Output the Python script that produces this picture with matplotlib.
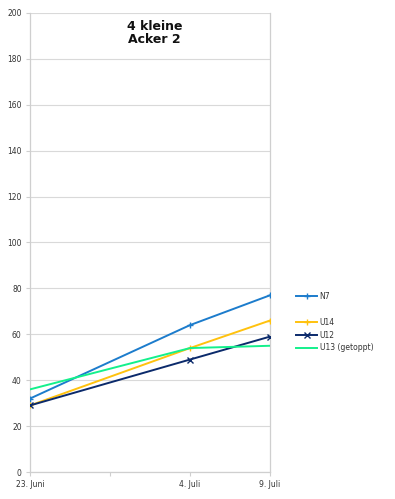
import matplotlib
matplotlib.use("Agg")
import matplotlib.pyplot as plt
from matplotlib.lines import Line2D

# category slots: 23. Juni, (empty), 4. Juli, 9. Juli
x_pos = [0, 2, 3]
tick_labels = ["23. Juni", "", "4. Juli", "9. Juli"]

n7 = [32, 64, 77]
u14 = [29, 54, 66]
u12 = [29, 49, 59]
u13 = [36, 54, 55]

series = [
    ("N7", n7, "#1c7ccc", "+"),
    ("U14", u14, "#ffc20e", "+"),
    ("U12", u12, "#0b2a6b", "x"),
    ("U13 (getoppt)", u13, "#14f08c", None),
]

fig = plt.figure(figsize=(3.95, 4.99), dpi=100)
ax = fig.add_axes([30 / 395, 27 / 499, 240 / 395, 459 / 499])

handles = []
for name, vals, col, mk in series:
    ln, = ax.plot(x_pos, vals, color=col, lw=1.4, marker=mk, ms=4.5, mew=1.0,
                  label=name, zorder=3)
    handles.append(ln)

ax.set_xlim(0, 3)
ax.set_ylim(0, 200)
ax.set_yticks(range(0, 201, 20))
ax.set_xticks(range(4))
ax.set_xticklabels(tick_labels)
ax.yaxis.grid(True, color="#d9d9d9", lw=0.8)
ax.set_axisbelow(True)

for s in ["left", "bottom", "right"]:
    ax.spines[s].set_color("#cfcfcf")
    ax.spines[s].set_linewidth(0.9)
ax.spines["top"].set_visible(False)
ax.tick_params(axis="both", colors="#cfcfcf", labelcolor="#333333",
               labelsize=5.5, length=3, width=0.8)
ax.tick_params(axis="y", pad=3)
ax.tick_params(axis="x", pad=3)

ax.text(0.52, 0.985, "4 kleine\nAcker 2", transform=ax.transAxes,
        ha="center", va="top", fontsize=9, fontweight="bold",
        linespacing=1.0, color="#111111")

# blank entry reproduces the gap after N7
blank = Line2D([], [], color="none")
leg = fig.legend([handles[0], blank] + handles[1:],
                 ["N7", ""] + [h.get_label() for h in handles[1:]],
                 loc="upper left", bbox_to_anchor=(293 / 395, 1 - 289 / 499),
                 frameon=False, fontsize=5.5, handlelength=2.8,
                 labelspacing=0.5, handletextpad=0.3, borderaxespad=0)
for t in leg.get_texts():
    t.set_color("#333333")

fig.savefig("out.png", dpi=100)
